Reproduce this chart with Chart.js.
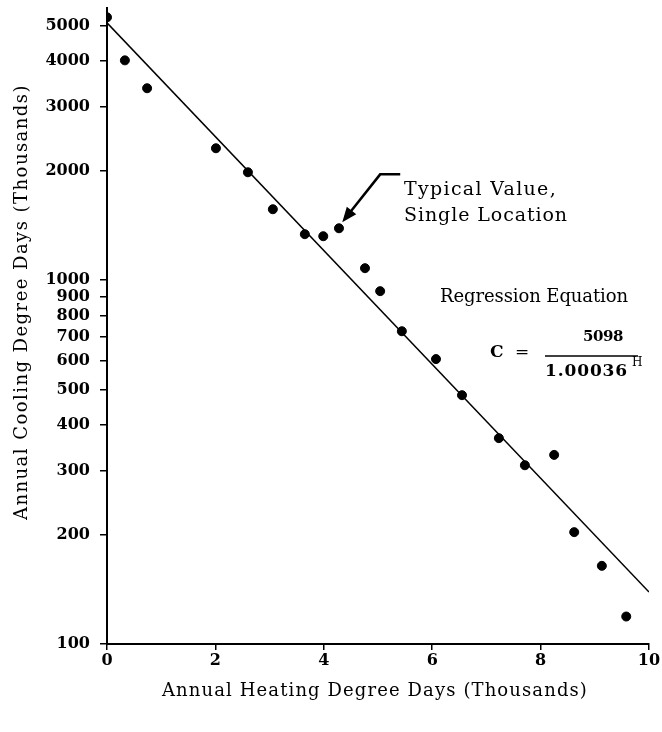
<!DOCTYPE html>
<html>
<head>
    <meta charset='utf-8'>
    <title>Cooling vs Heating Degree Days</title>
    <script src="https://cdn.jsdelivr.net/npm/chart.js@4.4.1/dist/chart.umd.min.js"></script>
    <style>
        body { margin: 0; background: #fff; }
    </style>
</head>
<body>
    <canvas id="degreeDays" width="662" height="732"></canvas>
<script>

// heating degree days (thousands) and cooling degree days
const heatingDays = [0, 0.33, 0.74, 2.01, 2.60, 3.06, 3.65, 3.99, 4.28, 4.76, 5.04, 5.44, 6.07, 6.55, 7.23, 7.71, 8.25, 8.62, 9.13, 9.58]
const coolingDays = [5280, 4020, 3370, 2305, 1980, 1567, 1338, 1321, 1389, 1079, 933, 724, 607, 483, 368, 310, 331, 203, 164, 119]

// regression line end points
const fitHeating = [0, 10]
const fitCooling = [5098, 139]

const xTickValues = [0, 2, 4, 6, 8, 10]
const yTickValues = [100, 200, 300, 400, 500, 600, 700, 800, 900, 1000, 2000, 3000, 4000, 5000]

const xTitle = 'Annual Heating Degree Days (Thousands)'
const yTitle = 'Annual Cooling Degree Days (Thousands)'

const SERIF = '"DejaVu Serif", "Liberation Serif", serif'

// draws text stretched to a given width with letter spacing
function fitText(ctx, text, x, y, width, font, align) {
    ctx.font = font
    ctx.letterSpacing = '0px'
    const w = ctx.measureText(text).width
    const ls = (width - w) / text.length
    ctx.letterSpacing = ls + 'px'
    ctx.textAlign = 'left'
    ctx.textBaseline = 'middle'
    let left = x
    if (align === 'center') left = x - width / 2
    if (align === 'right') left = x - width
    ctx.fillText(text, left, y)
    ctx.letterSpacing = '0px'
}

const labelsPlugin = {
    id: 'labels',
    afterDraw(chart) {
        const ctx = chart.ctx
        const xs = chart.scales.x
        const ys = chart.scales.y
        ctx.save()
        ctx.fillStyle = '#000'
        ctx.strokeStyle = '#000'

        // axis titles
        fitText(ctx, xTitle, 375, 691, 426, '18px ' + SERIF, 'center')
        ctx.save()
        ctx.translate(22, 302)
        ctx.rotate(-Math.PI / 2)
        fitText(ctx, yTitle, 0, 0, 436, '18px ' + SERIF, 'center')
        ctx.restore()

        // typical value note + arrow
        fitText(ctx, 'Typical Value,', 404, 190, 153, '19px ' + SERIF, 'left')
        fitText(ctx, 'Single Location', 404, 216, 164, '19px ' + SERIF, 'left')

        const ax0 = xs.getPixelForValue(5.41), ay0 = ys.getPixelForValue(1954)
        const ax1 = xs.getPixelForValue(5.04)
        const tipX = xs.getPixelForValue(4.34), tipY = ys.getPixelForValue(1443)
        ctx.lineWidth = 2.5
        ctx.beginPath()
        ctx.moveTo(ax0, ay0)
        ctx.lineTo(ax1, ay0)
        const ang = Math.atan2(tipY - ay0, tipX - ax1)
        const headLen = 15
        ctx.lineTo(tipX - Math.cos(ang) * (headLen - 2), tipY - Math.sin(ang) * (headLen - 2))
        ctx.stroke()
        ctx.beginPath()
        ctx.moveTo(tipX, tipY)
        ctx.lineTo(tipX - headLen * Math.cos(ang) + 6 * Math.sin(ang), tipY - headLen * Math.sin(ang) - 6 * Math.cos(ang))
        ctx.lineTo(tipX - headLen * Math.cos(ang) - 6 * Math.sin(ang), tipY - headLen * Math.sin(ang) + 6 * Math.cos(ang))
        ctx.closePath()
        ctx.fill()

        // regression equation
        fitText(ctx, 'Regression Equation', 440, 297, 188, '18px ' + SERIF, 'left')
        fitText(ctx, 'C', 490, 353, 15, 'bold 17px ' + SERIF, 'left')
        fitText(ctx, '=', 515, 353, 14, '17px ' + SERIF, 'left')
        fitText(ctx, '5098', 583, 337, 40, 'bold 15px ' + SERIF, 'left')
        ctx.lineWidth = 1.5
        ctx.beginPath()
        ctx.moveTo(545, 356)
        ctx.lineTo(638, 356)
        ctx.stroke()
        fitText(ctx, '1.00036', 545, 372, 83, 'bold 17px ' + SERIF, 'left')
        fitText(ctx, 'H', 632, 363, 10, '12px ' + SERIF, 'left')
        ctx.restore()
    }
}

const ctx = document.getElementById('degreeDays')
new Chart(ctx, {
    type: 'scatter',
    data: {
        datasets: [{
            label: 'Locations',
            data: heatingDays.map((h, i) => ({ x: h, y: coolingDays[i] })),
            backgroundColor: '#000',
            borderColor: '#000',
            pointRadius: 4.5,
            pointHoverRadius: 4.5
        }, {
            label: 'Regression',
            type: 'line',
            data: fitHeating.map((h, i) => ({ x: h, y: fitCooling[i] })),
            borderColor: '#000',
            borderWidth: 1.5,
            pointRadius: 0,
            fill: false
        }]
    },
    options: {
        responsive: false,
        animation: false,
        layout: { padding: { left: 0, right: 13, top: 8, bottom: 0 } },
        plugins: {
            legend: { display: false },
            tooltip: { enabled: false }
        },
        scales: {
            x: {
                type: 'linear',
                min: 0,
                max: 10,
                afterBuildTicks: s => { s.ticks = xTickValues.map(v => ({ value: v })) },
                afterFit: s => { s.height = 88; s.paddingLeft = 0; s.paddingRight = 0 },
                grid: { drawOnChartArea: false, tickLength: 6, tickColor: '#000', lineWidth: 1.5 },
                border: { display: true, color: '#000', width: 2 },
                ticks: {
                    color: '#000',
                    padding: 1,
                    font: { family: SERIF, size: 16, weight: 'bold' },
                    callback: v => String(v)
                }
            },
            y: {
                type: 'logarithmic',
                min: 100,
                max: 5600,
                afterBuildTicks: s => { s.ticks = yTickValues.map(v => ({ value: v })) },
                afterFit: s => { s.width = 107; s.paddingTop = 0; s.paddingBottom = 0 },
                grid: { drawOnChartArea: false, tickLength: 7, tickColor: '#000', lineWidth: 1.5 },
                border: { display: true, color: '#000', width: 2 },
                ticks: {
                    color: '#000',
                    padding: 10,
                    font: { family: SERIF, size: 16, weight: 'bold' },
                    callback: v => String(v)
                }
            }
        }
    },
    plugins: [labelsPlugin]
})

</script>
</body>
</html>
